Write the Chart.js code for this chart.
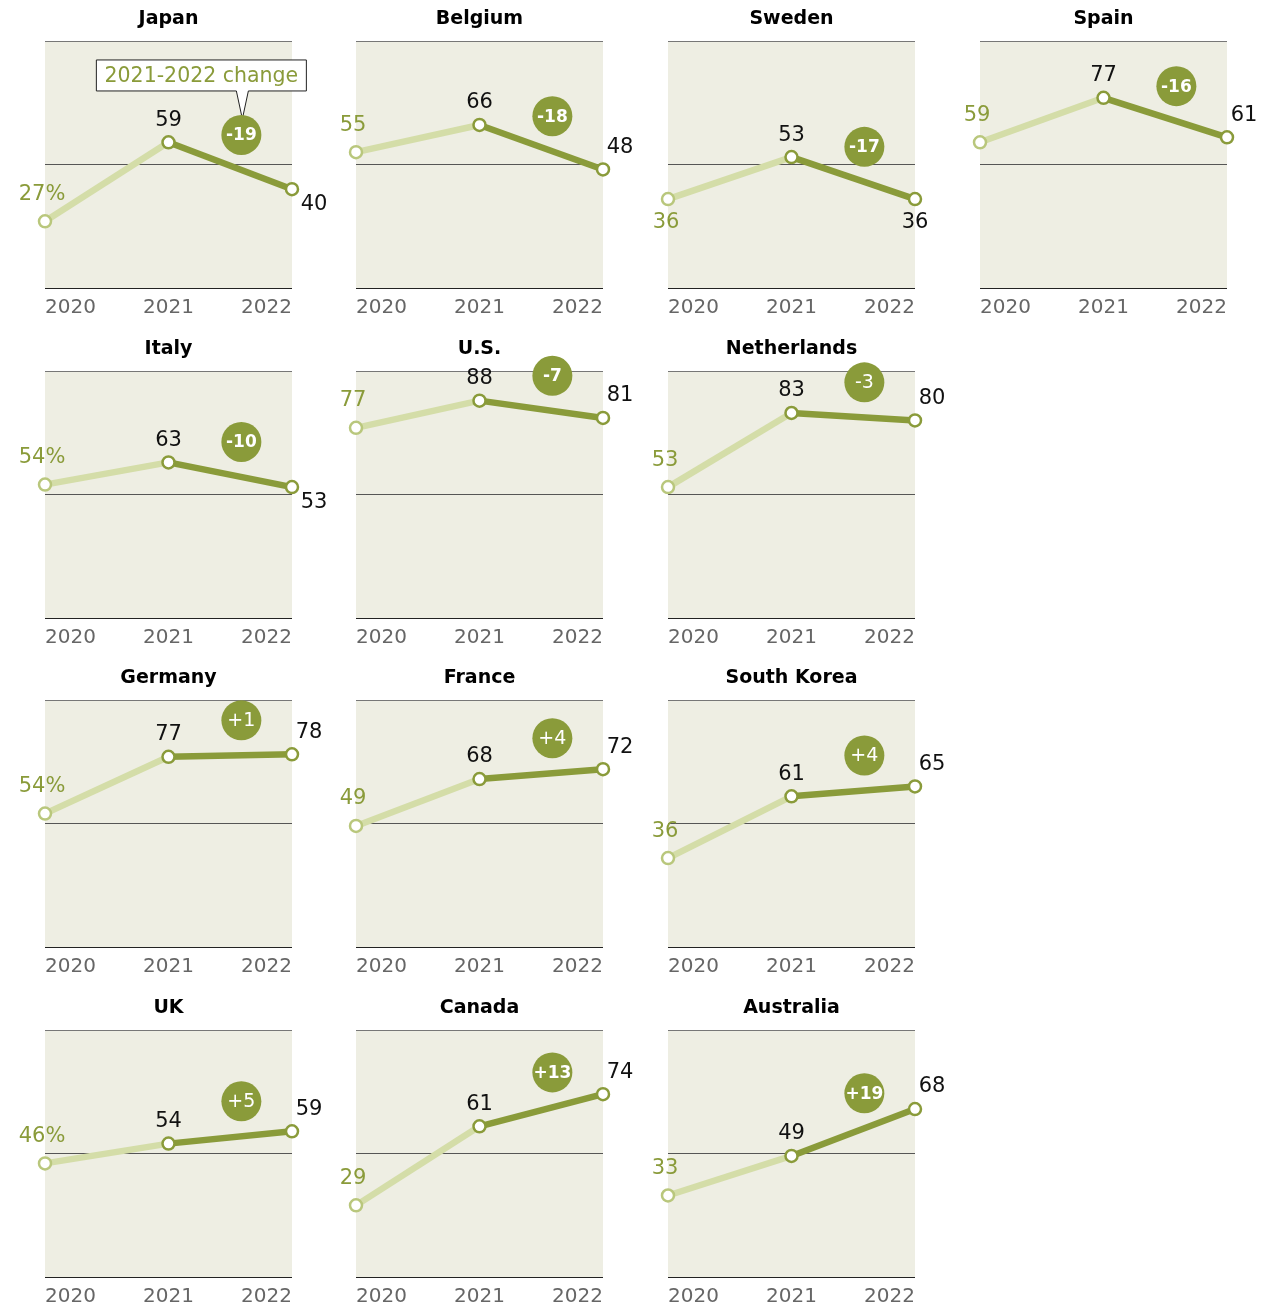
<!DOCTYPE html>
<html>
<head>
<meta charset="utf-8">
<title>2021-2022 change by country</title>
<script src="https://cdn.jsdelivr.net/npm/chart.js@4.4.0/dist/chart.umd.min.js"></script>
<style>
body { margin: 0; background: #fff; width: 1268px; height: 1305px; overflow: hidden; position: relative; }
canvas.panel { position: absolute; }
</style>
</head>
<body>
<div id="grid"></div>
<script>
// values
const countries = ['Japan', 'Belgium', 'Sweden', 'Spain', 'Italy', 'U.S.', 'Netherlands',
    'Germany', 'France', 'South Korea', 'UK', 'Canada', 'Australia'];
const years = ['2020', '2021', '2022'];
const v2020 = [27, 55, 36, 59, 54, 77, 53, 54, 49, 36, 46, 29, 33];
const v2021 = [59, 66, 53, 77, 63, 88, 83, 77, 68, 61, 54, 61, 49];
const v2022 = [40, 48, 36, 61, 53, 81, 80, 78, 72, 65, 59, 74, 68];
const change = [-19, -18, -17, -16, -10, -7, -3, 1, 4, 4, 5, 13, 19];
const significant = [true, true, true, true, true, true, false, false, false, false, false, true, true];
const yTicks = [0, 50, 100];

// layout / style
const rows = [[0, 1, 2, 3], [4, 5, 6], [7, 8, 9], [10, 11, 12]];
const colLeft = [45, 356, 668, 980];
const rowTop = [41, 371, 700, 1030];
const BG = '#eeeee3';
const LIGHT = '#d4dda8';
const LIGHT_PT = '#b9c77c';
const DARK = '#8a9b3a';
const NUM_FONT = '"DejaVu Sans", sans-serif';
const placement = {
    'Japan': { end: 'belowRight' },
    'Italy': { end: 'belowRight' },
    'Sweden': { start: 'below', end: 'below' }
};

const panelPlugin = {
    id: 'panel',
    beforeDraw(chart) {
        const { ctx, chartArea: a } = chart;
        ctx.save();
        ctx.fillStyle = BG;
        ctx.fillRect(a.left, a.top, a.right - a.left, a.bottom - a.top);
        ctx.restore();
    },
    afterDatasetsDraw(chart) {
        const { ctx } = chart;
        const o = chart.options.plugins.panel;
        const i = o.index;
        const name = countries[i];
        const pts = chart.getDatasetMeta(0).data;
        const yScale = chart.scales.y;
        const place = placement[name] || {};
        ctx.save();
        ctx.textBaseline = 'middle';
        ctx.textAlign = 'center';
        ctx.font = '21px ' + NUM_FONT;

        // 2020 label
        let p = pts[0];
        ctx.fillStyle = DARK;
        const t0 = v2020[i] + (o.col === 0 ? '%' : '');
        if (place.start === 'below') ctx.fillText(t0, p.x - 2, p.y + 23);
        else ctx.fillText(t0, p.x - 3, p.y - 27);

        // 2021 label
        p = pts[1];
        ctx.fillStyle = '#111';
        ctx.fillText(String(v2021[i]), p.x, p.y - 22);

        // 2022 label
        p = pts[2];
        if (place.end === 'below') ctx.fillText(String(v2022[i]), p.x, p.y + 23);
        else if (place.end === 'belowRight') ctx.fillText(String(v2022[i]), p.x + 22, p.y + 15);
        else ctx.fillText(String(v2022[i]), p.x + 17, p.y - 22);

        // change badge
        const f = 0.59;
        const bx = pts[1].x + f * (pts[2].x - pts[1].x);
        const lineVal = v2021[i] + f * (v2022[i] - v2021[i]);
        const by = yScale.getPixelForValue(lineVal) - 35;

        if (name === 'Japan') {
            // callout box "2021-2022 change"
            const l = bx - 145, r = bx + 65, t = by - 75, b = by - 44;
            ctx.beginPath();
            ctx.moveTo(l, t);
            ctx.lineTo(r, t);
            ctx.lineTo(r, b);
            ctx.lineTo(bx + 7, b);
            ctx.lineTo(bx + 1, by - 16);
            ctx.lineTo(bx - 5, b);
            ctx.lineTo(l, b);
            ctx.closePath();
            ctx.fillStyle = '#fff';
            ctx.fill();
            ctx.strokeStyle = '#222';
            ctx.lineWidth = 1;
            ctx.stroke();
            ctx.fillStyle = DARK;
            ctx.font = '20.5px ' + NUM_FONT;
            ctx.fillText('2021-2022 change', (l + r) / 2, (t + b) / 2 + 1);
        }

        ctx.beginPath();
        ctx.arc(bx, by, 20, 0, Math.PI * 2);
        ctx.fillStyle = DARK;
        ctx.fill();
        ctx.fillStyle = '#fff';
        ctx.font = (significant[i] ? 'bold 17px ' : '19px ') + NUM_FONT;
        const ct = (change[i] > 0 ? '+' : '') + change[i];
        ctx.fillText(ct, bx, by + 1);
        ctx.restore();
    }
};

const grid = document.getElementById('grid');

rows.forEach((row, r) => {
    row.forEach((i, c) => {
        const cv = document.createElement('canvas');
        cv.className = 'panel';
        cv.width = 345;
        cv.height = 330;
        cv.style.left = (colLeft[c] - 45) + 'px';
        cv.style.top = (rowTop[r] - 41) + 'px';
        grid.appendChild(cv);

        new Chart(cv.getContext('2d'), {
            type: 'line',
            data: {
                labels: years,
                datasets: [{
                    data: [v2020[i], v2021[i], v2022[i]],
                    borderWidth: 6.5,
                    borderJoinStyle: 'round',
                    segment: {
                        borderColor: s => s.p0DataIndex === 0 ? LIGHT : DARK
                    },
                    borderColor: DARK,
                    pointRadius: 6,
                    pointBorderWidth: 2.5,
                    pointBackgroundColor: '#fff',
                    pointBorderColor: [LIGHT_PT, DARK, DARK],
                    tension: 0,
                    clip: false
                }]
            },
            options: {
                responsive: false,
                animation: false,
                events: [],
                layout: { padding: { left: 45, right: 53, top: 0, bottom: 0 } },
                scales: {
                    x: {
                        grid: { display: false },
                        border: { display: false },
                        afterFit: s => { s.height = 42; },
                        ticks: {
                            align: 'inner',
                            padding: 0,
                            color: '#666',
                            font: { family: NUM_FONT, size: 20 },
                            maxRotation: 0
                        }
                    },
                    y: {
                        min: 0,
                        max: 100,
                        afterBuildTicks: s => { s.ticks = yTicks.map(v => ({ value: v })); },
                        afterFit: s => { s.width = 0; },
                        border: { display: false },
                        ticks: { display: false },
                        grid: {
                            drawTicks: false,
                            lineWidth: 1,
                            color: g => g.tick.value === 0 ? '#222' : (g.tick.value === 50 ? '#555' : '#777')
                        }
                    }
                },
                plugins: {
                    legend: { display: false },
                    tooltip: { enabled: false },
                    title: {
                        display: true,
                        text: countries[i],
                        color: '#000',
                        font: { family: NUM_FONT, size: 19, weight: 'bold', lineHeight: 1.2 },
                        padding: { top: 8, bottom: 10.2 }
                    },
                    panel: { index: i, col: c }
                }
            },
            plugins: [panelPlugin]
        });
    });
});
</script>
</body>
</html>
